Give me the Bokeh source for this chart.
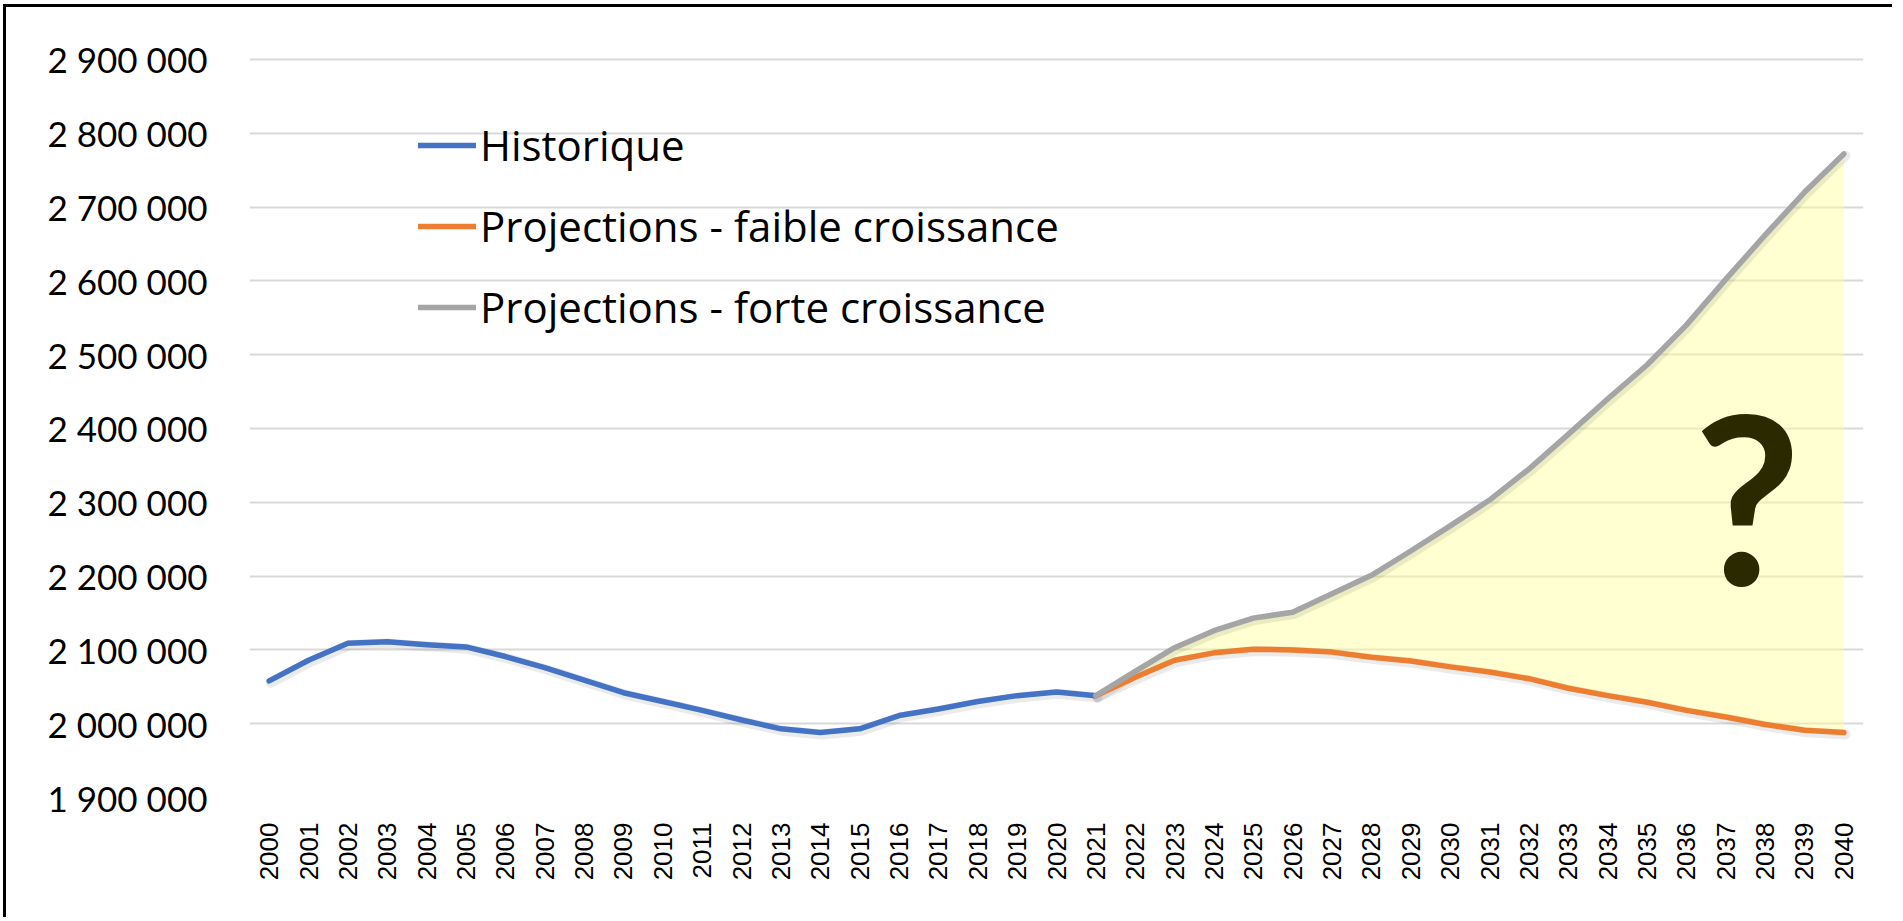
import math
from bokeh.plotting import figure
from bokeh.models import FixedTicker, Legend, LegendItem, Label, Range1d
from bokeh.embed import file_html
from bokeh.resources import INLINE

# ---------------- data ----------------
hist_years = [2000, 2001, 2002, 2003, 2004, 2005, 2006, 2007, 2008, 2009, 2010,
              2011, 2012, 2013, 2014, 2015, 2016, 2017, 2018, 2019, 2020, 2021]
historique = [2058000, 2086000, 2109000, 2111000, 2107000, 2104000, 2091000, 2076000,
              2059000, 2042000, 2030000, 2018000, 2005000, 1993000, 1988000, 1993000,
              2011000, 2020000, 2030000, 2038000, 2043000, 2038000]

proj_years = [2021, 2022, 2023, 2024, 2025, 2026, 2027, 2028, 2029, 2030,
              2031, 2032, 2033, 2034, 2035, 2036, 2037, 2038, 2039, 2040]
faible = [2038000, 2063000, 2086000, 2096000, 2101000, 2100000, 2097000, 2090000,
          2085000, 2077000, 2070000, 2061000, 2048000, 2038000, 2029000, 2018000,
          2009000, 1999000, 1991000, 1988000]
forte = [2038000, 2071000, 2103000, 2126000, 2143000, 2151000, 2176000, 2201000,
         2234000, 2268000, 2303000, 2345000, 2392000, 2440000, 2486000, 2540000,
         2602000, 2662000, 2720000, 2772000]

x_ticks = [2000, 2001, 2002, 2003, 2004, 2005, 2006, 2007, 2008, 2009, 2010,
           2011, 2012, 2013, 2014, 2015, 2016, 2017, 2018, 2019, 2020, 2021,
           2022, 2023, 2024, 2025, 2026, 2027, 2028, 2029, 2030, 2031, 2032,
           2033, 2034, 2035, 2036, 2037, 2038, 2039, 2040]
y_ticks = [1900000, 2000000, 2100000, 2200000, 2300000, 2400000,
           2500000, 2600000, 2700000, 2800000, 2900000]
y_tick_labels = ["1 900 000", "2 000 000", "2 100 000", "2 200 000", "2 300 000",
                 "2 400 000", "2 500 000", "2 600 000", "2 700 000", "2 800 000",
                 "2 900 000"]

labels = ["Historique", "Projections - faible croissance", "Projections - forte croissance"]
colors = ["#4472C4", "#ED7D31", "#A5A5A5"]

# ---------------- figure ----------------
p = figure(width=1889, height=913,
           x_range=Range1d(1999.5, 2040.5), y_range=Range1d(1900000, 2904000),
           output_backend="svg", toolbar_location=None,
           min_border_left=243, min_border_top=49, min_border_right=32, min_border_bottom=123)
p.styles = {"margin-left": "3px", "margin-top": "4px",
            "border-left": "3px solid #000000", "border-top": "3px solid #000000"}
p.outline_line_color = None
p.background_fill_color = "white"
p.border_fill_color = "white"

# grid
p.xgrid.grid_line_color = None
p.ygrid.grid_line_color = "#D9D9D9"
p.ygrid.grid_line_width = 2

# y axis
p.yaxis.ticker = FixedTicker(ticks=y_ticks)
p.yaxis.major_label_overrides = {v: s for v, s in zip(y_ticks, y_tick_labels)}
p.yaxis.axis_line_color = None
p.yaxis.major_tick_line_color = None
p.yaxis.minor_tick_line_color = None
p.yaxis.major_tick_out = 0
p.yaxis.major_label_standoff = 42
p.yaxis.major_label_text_font = "Lato"
p.yaxis.major_label_text_font_size = "35px"
p.yaxis.major_label_text_color = "#000000"

# x axis
p.xaxis.ticker = FixedTicker(ticks=x_ticks)
p.xaxis.major_label_overrides = {v: str(v) for v in x_ticks}
p.xaxis.major_label_orientation = math.pi / 2
p.xaxis.axis_line_color = None
p.xaxis.major_tick_line_color = None
p.xaxis.minor_tick_line_color = None
p.xaxis.major_tick_out = 0
p.xaxis.major_label_standoff = 25
p.xaxis.major_label_text_font = "Liberation Sans"
p.xaxis.major_label_text_font_size = "26px"
p.xaxis.major_label_text_color = "#000000"

# shaded uncertainty area
p.varea(x=proj_years, y1=faible, y2=forte, fill_color="#FFFF99", fill_alpha=0.45)

# soft shadows under the lines
dx, dy = 0.04, 2500
for xs, ys in [(hist_years, historique), (proj_years, faible), (proj_years, forte)]:
    p.line([x + dx for x in xs], [y - dy for y in ys], line_color="#000000",
           line_alpha=0.08, line_width=10, line_join="round", line_cap="round")

r_hist = p.line(hist_years, historique, line_color=colors[0], line_width=5.5,
                line_join="round", line_cap="round")
r_low = p.line(proj_years, faible, line_color=colors[1], line_width=5.5,
               line_join="round", line_cap="round")
r_high = p.line(proj_years, forte, line_color=colors[2], line_width=5.5,
                line_join="round", line_cap="round")

legend = Legend(items=[LegendItem(label=labels[0], renderers=[r_hist]),
                       LegendItem(label=labels[1], renderers=[r_low]),
                       LegendItem(label=labels[2], renderers=[r_high])],
                location=(169, 462), orientation="vertical",
                label_text_font="Open Sans", label_text_font_size="42px",
                label_text_color="#000000",
                glyph_width=58, glyph_height=48, label_height=48, spacing=24,
                padding=0, margin=0, label_standoff=4,
                border_line_color=None, background_fill_alpha=0)
p.add_layout(legend)

q = Label(x=2037.55, y=2311000, text="?", text_align="center", text_baseline="alphabetic",
          text_font="Lato", text_font_style="bold", text_font_size="234px",
          text_color="#2A2900")
p.add_layout(q)

open("out.html", "w").write(file_html(p, INLINE))
